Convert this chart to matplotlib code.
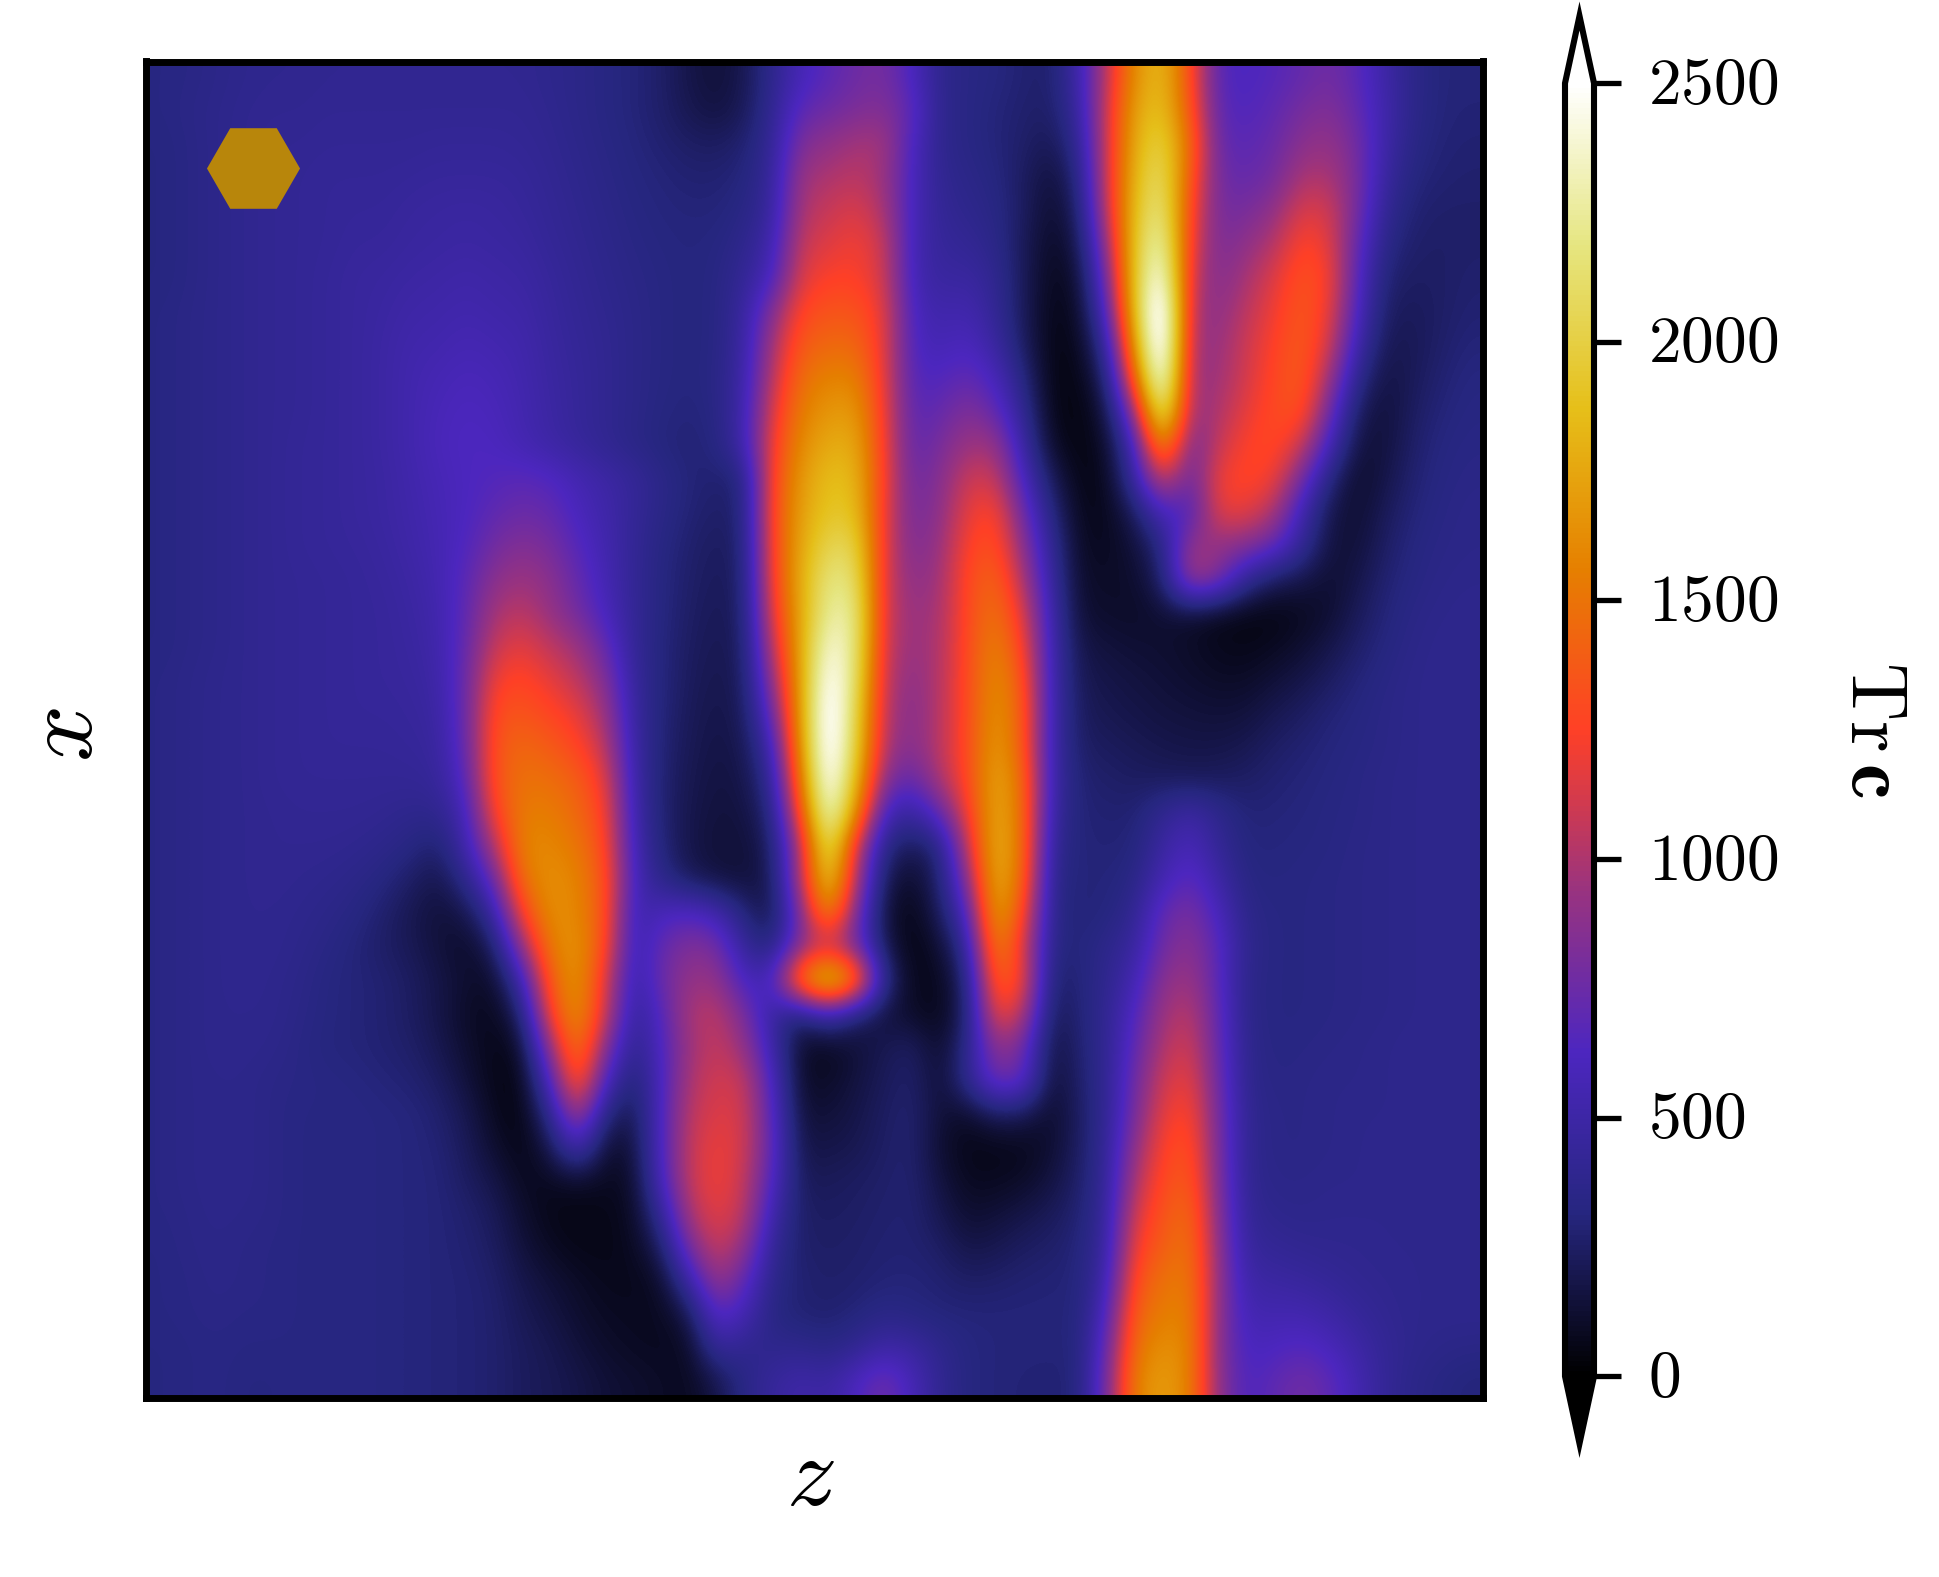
import numpy as np
import matplotlib
matplotlib.use("Agg")
import matplotlib.pyplot as plt
from matplotlib.transforms import ScaledTranslation

plt.rcParams['mathtext.fontset'] = 'cm'

# Tr c values, in tens, top row first
trc_tens = [
    [33,34,36,38,39, 39,40,40,40,40,40,40,40,40,38,36,33,30,26,18,14,20, 38,58,68,76,80,62,38,34,32,28,26, 50,105,165,188,130,65,62,66,72,78,68,50,36, 30,30],
    [33,35,37,39,40, 40,41,41,41,41,41,41,41,41,39,36,33,30,26,20,16,22, 40,70,76,82,85,70,38,34,30,27,25, 45,110,175,192,135,68,64,70,80,85,72,52,36, 30,29],
    [32,34,37,39,41, 41,42,42,42,42,43,43,43,42,40,37,34,31,28,25,24,28, 42,84,90,98,98,62,38,34,30,26,20, 38,110,180,205,145,72,68,74,88,92,78,50,34, 29,28],
    [32,34,37,39,41, 42,43,43,43,44,45,45,45,44,41,38,35,32,30,28,28,31, 44,95,100,105,95,60,40,36,32,24,14, 30,110,185,215,135,76,72,78,100,100,80,46,31, 28,27],
    [32,34,37,39,41, 42,43,44,44,46,47,48,47,45,42,39,36,33,31,30,30,34, 46,100,108,115,100,58,42,38,34,24,11, 24,105,190,225,125,78,80,90,115,112,78,40,28, 26,26],
    [32,34,37,39,41, 42,43,45,45,47,48,49,48,47,43,40,37,34,32,31,32,38, 52,108,115,122,110,56,44,42,36,22,9, 18,90,195,240,118,80,90,102,128,118,70,34,26, 25,26],
    [32,34,37,39,41, 42,44,46,47,49,50,52,50,49,45,41,38,35,33,31,33,42, 60,115,125,125,112,56,46,48,40,22,7, 12,75,195,260,108,84,98,115,135,125,65,28,24, 25,27],
    [33,35,37,39,41, 42,44,46,48,51,52,54,52,51,46,42,39,36,33,31,33,46, 85,128,135,135,118,60,52,55,42,22,6, 9,60,190,285,100,88,105,120,138,120,60,24,22, 25,28],
    [33,35,37,39,41, 42,44,46,49,53,54,57,55,53,47,43,40,36,33,31,33,48, 98,138,145,145,118,62,56,62,48,24,5, 7,40,170,285,95,92,110,125,140,112,50,20,21, 26,30],
    [33,35,37,39,41, 42,44,46,49,54,57,60,58,54,48,44,40,36,33,31,34,50, 105,148,158,158,118,65,64,72,60,32,5, 5,25,140,270,92,95,112,128,140,95,35,16,22, 28,32],
    [33,35,37,39,41, 42,44,46,49,54,59,62,60,55,49,44,40,36,32,30,33,52, 115,155,168,170,120,68,72,85,72,40,6, 4,15,90,235,90,100,118,130,135,75,22,14,24, 30,33],
    [33,35,37,39,41, 43,44,46,49,54,60,63,62,56,50,45,40,35,31,28,32,52, 122,162,178,178,122,70,80,95,95,48,10, 4,10,55,175,75,108,125,130,110,55,15,15,26, 32,34],
    [33,35,37,39,41, 43,44,46,48,53,58,62,65,68,65,56,50,44,36,30,27,30, 128,168,188,185,122,75,85,110,110,60,22, 5,7,45,115,70,122,128,122,78,30,10,18,28, 33,35],
    [33,35,37,39,41, 43,44,46,48,52,57,62,70,75,72,60,52,43,35,29,25,29, 130,172,192,190,118,78,88,118,128,75,32, 7,7,22,60,60,118,118,100,52,18,12,22,30, 34,36],
    [33,35,37,39,41, 43,44,45,47,51,56,64,78,85,80,66,54,42,33,27,23,27, 128,175,205,205,115,82,92,125,135,88,40, 9,8,14,32,95,90,85,72,42,15,14,25,32, 35,36],
    [33,35,37,39,41, 42,43,44,46,49,55,68,88,95,88,72,56,42,32,26,22,26, 125,178,220,215,112,88,95,130,145,100,45, 11,10,11,25,100,85,40,22,18,12,18,28,33, 36,37],
    [33,35,37,39,41, 42,43,44,45,48,53,70,98,105,92,78,60,42,32,25,21,25, 118,175,228,225,110,92,98,130,152,115,50, 13,11,10,13,12,7,5,5,8,12,22,30,35, 37,38],
    [33,35,37,39,41, 42,43,44,45,47,52,72,108,118,105,95,72,42,31,24,20,24, 105,175,245,222,108,92,100,130,160,125,52, 18,15,13,12,10,7,6,8,12,18,26,32,36, 38,38],
    [34,36,38,39,41, 42,43,44,45,46,50,74,122,128,118,105,85,44,31,23,19,23, 90,172,260,215,105,88,102,130,165,135,52, 21,18,16,14,12,10,10,14,18,24,30,34,37, 38,38],
    [34,36,38,39,41, 42,43,44,44,45,48,74,132,135,128,118,95,46,30,22,18,22, 72,170,270,205,102,85,103,130,168,140,52, 23,20,18,16,15,14,15,20,24,29,32,35,37, 38,38],
    [34,36,38,39,41, 42,43,43,43,44,46,72,135,145,138,128,105,48,29,21,17,20, 52,165,270,200,98,85,104,130,172,140,50, 25,23,21,19,18,18,20,25,28,31,33,35,37, 38,38],
    [34,36,38,39,41, 42,42,42,42,42,44,66,135,150,148,140,118,50,28,20,16,18, 40,150,265,185,85,70,100,128,178,148,50, 28,26,24,23,22,23,25,28,30,32,34,36,37, 38,38],
    [34,36,38,39,40, 41,41,41,40,38,38,56,125,155,155,145,125,52,28,19,15,16, 30,130,250,165,55,45,70,120,180,150,46, 29,28,28,40,50,38,29,30,31,33,34,36,37, 38,38],
    [34,36,38,39,40, 40,40,39,37,33,26,52,100,160,160,152,130,55,30,18,14,14, 24,100,225,110,32,20,30,105,185,150,40, 30,29,30,48,60,42,31,31,32,33,35,36,37, 38,38],
    [34,36,38,39,40, 39,38,36,32,25,18,36,72,150,165,158,135,58,36,22,16,14, 20,100,205,100,20,10,26,85,185,145,36, 30,30,34,56,70,50,33,32,33,34,35,36,37, 38,38],
    [34,36,38,39,39, 38,36,33,27,20,14,18,45,125,165,160,135,50,60,65,55,30, 16,80,170,80,14,5,22,60,180,130,35, 29,31,40,72,82,60,36,33,33,34,35,36,37, 38,38],
    [34,36,38,39,39, 37,34,30,25,21,15,10,22,90,155,168,130,48,72,85,80,42, 30,85,100,75,20,4,12,40,165,115,33, 30,37,46,78,88,68,38,33,33,34,35,36,37, 38,38],
    [34,36,38,39,38, 36,32,30,28,24,18,12,10,50,140,170,115,45,75,92,92,58, 60,165,215,165,35,7,7,28,145,125,25, 30,38,55,88,95,68,36,33,33,34,35,36,37, 38,38],
    [34,36,38,38,38, 35,32,30,28,24,18,10,7,25,125,170,110,40,65,100,105,80, 45,25,50,25,15,10,6,25,125,105,20, 29,40,64,95,105,70,36,33,33,34,35,36,37, 38,38],
    [34,36,38,38,37, 34,31,30,28,26,20,12,6,10,90,160,85,35,62,95,108,92, 50,10,7,14,20,25,10,35,90,78,14, 28,40,70,102,112,72,38,33,34,35,36,37,38, 38,38],
    [34,36,37,37,35, 34,33,32,30,28,24,15,6,5,60,145,60,26,60,100,112,108, 60,10,10,16,22,27,12,38,78,72,12, 26,40,76,110,120,75,38,34,35,36,36,37,38, 38,38],
    [34,36,37,37,35, 33,33,33,32,31,27,20,8,4,35,105,30,18,62,105,115,112, 65,14,14,18,24,28,14,10,22,20,10, 24,40,80,118,128,78,40,35,35,36,37,37,38, 38,38],
    [34,36,37,37,35, 33,33,33,32,31,29,22,12,5,18,58,12,14,62,108,120,112, 68,18,18,20,25,28,12,6,6,7,12, 24,42,90,125,135,80,40,35,35,36,37,38,38, 38,38],
    [34,36,37,37,35, 33,33,33,32,31,30,24,18,8,8,10,8,10,58,108,122,108, 62,22,22,24,26,28,16,8,8,10,16, 26,42,100,130,140,82,40,36,36,37,37,38,38, 38,38],
    [34,35,37,36,35, 33,33,33,32,31,30,27,22,12,6,5,6,9,40,100,118,105, 50,25,24,25,27,28,20,12,14,18,22, 28,44,112,135,148,85,42,38,37,38,38,38,38, 38,38],
    [33,35,36,35,34, 33,33,33,32,31,30,28,24,15,9,6,6,8,22,80,110,90, 40,26,25,26,28,28,25,18,20,24,26, 30,46,122,140,152,88,45,42,40,39,39,38,38, 38,38],
    [33,34,36,35,34, 33,33,33,32,31,30,29,26,19,14,10,7,7,10,48,95,70, 35,28,26,27,29,30,28,25,26,28,29, 30,52,132,150,155,90,50,48,46,43,40,39,38, 38,38],
    [33,34,35,34,34, 33,33,33,32,31,30,29,27,21,17,12,9,8,8,18,70,55, 32,28,27,30,35,32,30,30,30,30,30, 30,62,142,155,158,88,55,55,55,50,44,40,38, 38,38],
    [32,33,34,33,33, 33,33,33,32,31,30,29,27,23,20,15,11,9,8,9,45,38, 38,38,34,40,50,48,38,32,30,30,30, 30,72,150,165,160,85,60,62,66,60,50,42,38, 36,35],
    [32,33,34,32,32, 33,33,33,32,31,30,29,27,23,21,18,14,12,10,8,18,35, 45,52,48,62,78,58,40,32,30,29,28, 30,78,158,172,158,88,62,70,78,70,55,42,36, 33,30],
]
cbar_ticks = [0, 500, 1000, 1500, 2000, 2500]
cbar_labels = ['$0$', '$500$', '$1000$', '$1500$', '$2000$', '$2500$']

trc = np.array(trc_tens) * 10

W, H = 1940, 1577
fig = plt.figure(figsize=(W / 200, H / 200), dpi=200)

# axes boxes in pixels, converted to figure fractions
ax = fig.add_axes([146.5 / W, 1 - 1398 / H, 1336.5 / W, 1336.5 / H])
# the colorbar box includes the two arrow tips
cax = fig.add_axes([1565 / W, 1 - 1443.5 / H, 29 / W, 1427.5 / H])

im = ax.imshow(trc, cmap='CMRmap', vmin=0, vmax=2500, aspect='auto', interpolation='bicubic')
ax.set_xticks([])
ax.set_yticks([])
for s in ax.spines.values():
    s.set_linewidth(2.5)

# hexagon marker in the corner
ax.plot([0.0795], [0.9205], marker='H', ms=33.5, color='darkgoldenrod', mew=0, ls='none', transform=ax.transAxes)

ax.set_xlabel('$z$', fontsize=36, labelpad=11, x=0.497)
ax.set_ylabel('$x$', fontsize=36, labelpad=12, y=0.496)

cbar = fig.colorbar(im, cax=cax, extend='both', extendfrac=0.052)
cbar.set_ticks(cbar_ticks)
cbar.set_ticklabels(cbar_labels)
cbar.ax.tick_params(labelsize=23.6, length=9.6, width=1.9, pad=10)
# nudge the tick labels down a little
nudge = ScaledTranslation(0, -0.0125, fig.dpi_scale_trans)
for lab in cbar.ax.get_yticklabels():
    lab.set_verticalalignment('center')
    lab.set_transform(lab.get_transform() + nudge)
cbar.outline.set_linewidth(2.2)
cbar.set_label(r'$\mathrm{Tr}\,\mathbf{c}$', fontsize=29, rotation=270, labelpad=48)

fig.savefig('out.png', dpi=200)
